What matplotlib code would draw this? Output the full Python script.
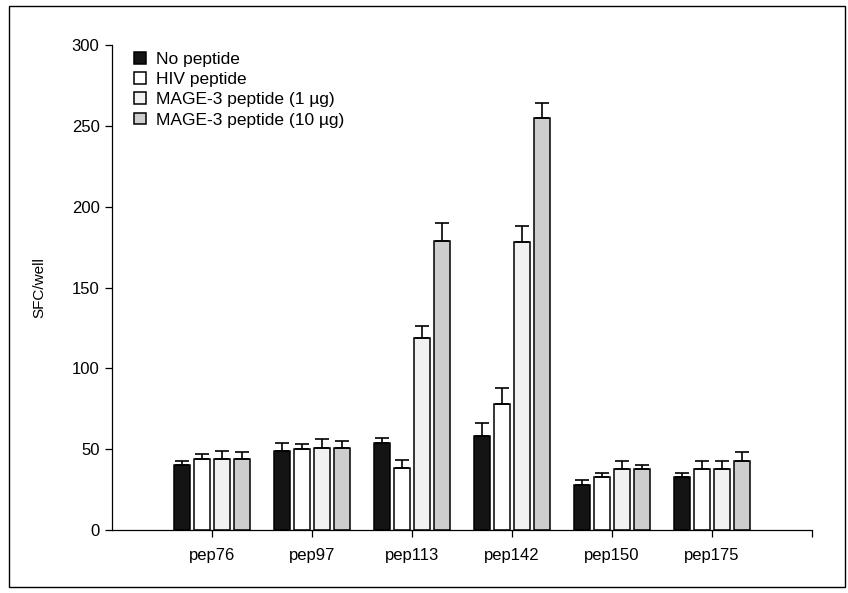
import numpy as np
import matplotlib.pyplot as plt
from matplotlib.patches import Rectangle

plt.rcParams['font.family'] = ['Liberation Sans', 'DejaVu Sans']

groups = ['pep76', 'pep97', 'pep113', 'pep142', 'pep150', 'pep175']
series = ['No peptide', 'HIV peptide', 'MAGE-3 peptide (1 \u00b5g)', 'MAGE-3 peptide (10 \u00b5g)']

# SFC/well means and upper error for each series, one value per peptide
no_pep = [40, 49, 54, 58, 28, 32.5]
no_pep_err = [3, 5, 3, 8, 3, 3]
hiv = [44, 50, 38.5, 78, 33, 37.5]
hiv_err = [3, 3.5, 5, 10, 2.5, 5]
mage_1 = [44, 51, 118.5, 178, 37.5, 38]
mage_1_err = [5, 5, 8, 10, 5, 5]
mage_10 = [44, 51, 179, 255, 38, 43]
mage_10_err = [4, 4, 11, 9, 2.5, 5]

fills = ['#141414', 'white', '#f1f1f1', '#cdcdcd']

fig = plt.figure(figsize=(8.48, 5.93), dpi=100)
ax = fig.add_axes([0.1321, 0.1062, 0.8255, 0.8179])

x = np.arange(1, len(groups) + 1)
width = 0.155
offsets = [-0.3, -0.1, 0.1, 0.3]
values = [no_pep, hiv, mage_1, mage_10]
errors = [no_pep_err, hiv_err, mage_1_err, mage_10_err]

for vals, errs, off, fc, name in zip(values, errors, offsets, fills, series):
    ax.bar(x + off, vals, width, color=fc, edgecolor='black', linewidth=1.1,
           label=name, zorder=2)
    ax.errorbar(x + off, vals, yerr=[np.zeros(len(errs)), errs], fmt='none',
                ecolor='black', elinewidth=1.2, capsize=5, capthick=1.2, zorder=3)

ax.set_xlim(0, 7)
ax.set_ylim(0, 300)
ax.set_yticks(np.arange(0, 301, 50))
ax.set_xticks(list(x) + [7])
ax.set_xticklabels(groups + [''])
ax.tick_params(axis='both', labelsize=12, length=5, width=0.9, colors='black')
ax.tick_params(axis='x', pad=8)
ax.tick_params(axis='y', pad=4)
for side in ['top', 'right']:
    ax.spines[side].set_visible(False)
for side in ['left', 'bottom']:
    ax.spines[side].set_linewidth(0.9)

ax.set_ylabel('SFC/well', fontsize=11, labelpad=18)

ax.legend(loc='upper left', bbox_to_anchor=(0.022, 1.0), frameon=False,
          fontsize=12.5, handlelength=0.65, handleheight=0.65, handletextpad=0.6,
          labelspacing=0.3, borderaxespad=0)

# frame around the whole figure
fig.patches.append(Rectangle((9 / 848, 6 / 593), 836 / 848, 581 / 593,
                             transform=fig.transFigure, fill=False,
                             edgecolor='black', linewidth=1.0))

fig.savefig('out.png', dpi=100)
